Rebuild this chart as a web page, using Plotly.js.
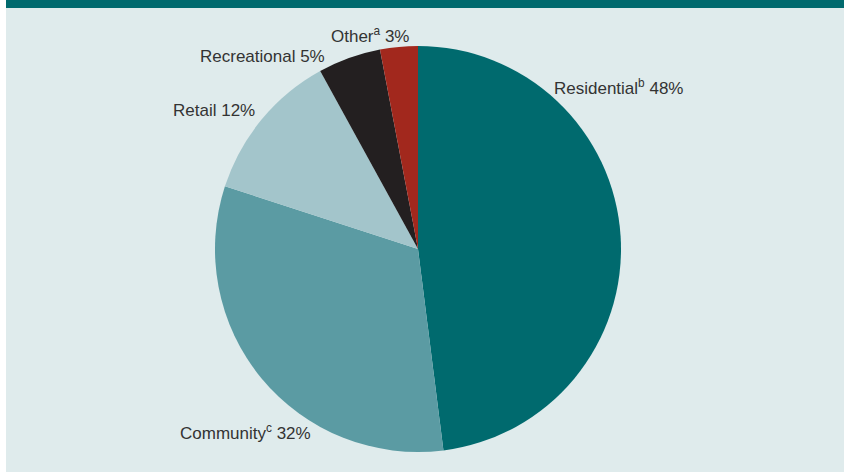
<!DOCTYPE html>
<html>
<head>
<meta charset="utf-8">
<script src="https://cdn.plot.ly/plotly-3.0.1.min.js"></script>
<style>html,body{margin:0;padding:0;background:#dfebec;}#chart{width:844px;height:472px;}</style>
</head>
<body>
<div id="chart"></div>
<script>
const categories = ['Residential', 'Community', 'Retail', 'Recreational', 'Other'];
const notes = ['b', 'c', '', '', 'a'];
const shares = [48, 32, 12, 5, 3];
const colors = ['#006a6e', '#5b9ba3', '#a3c5cb', '#231f20', '#a2281d'];

// label placement (paper coords) and anchors, in category order
const labelPos = [
  {x: 0.8300, y: 0.899, xa: 'left'},
  {x: -0.0911, y: 0.049, xa: 'left'},
  {x: 0.1034, y: 0.842, xa: 'right'},
  {x: 0.2759, y: 0.975, xa: 'right'},
  {x: 0.4828, y: 1.027, xa: 'right'}
];

const annotations = categories.map((c, i) => ({
  text: c + (notes[i] ? '<sup>' + notes[i] + '</sup>' : '') + ' ' + shares[i] + '%',
  x: labelPos[i].x, y: labelPos[i].y, xref: 'paper', yref: 'paper',
  xanchor: labelPos[i].xa, yanchor: 'middle', showarrow: false,
  font: {family: 'Liberation Sans, Arial, sans-serif', size: 17, color: '#333333'}
}));

const trace = {
  type: 'pie',
  labels: categories,
  values: shares,
  sort: false,
  direction: 'clockwise',
  rotation: 0,
  textinfo: 'none',
  hoverinfo: 'label+percent',
  marker: {colors: colors, line: {width: 0}},
  showlegend: false
};

const layout = {
  width: 844, height: 472,
  margin: {l: 215, r: 223, t: 46, b: 20},
  paper_bgcolor: '#dfebec',
  plot_bgcolor: '#dfebec',
  showlegend: false,
  annotations: annotations,
  shapes: [
    {
      type: 'rect', xref: 'paper', yref: 'paper',
      x0: -0.5148, x1: 2, y0: 1.0936, y1: 1.2,
      fillcolor: '#006a6e', line: {width: 0}, layer: 'above'
    },
    {
      type: 'rect', xref: 'paper', yref: 'paper',
      x0: -1, x1: -0.5148, y0: -1, y1: 2,
      fillcolor: '#ffffff', line: {width: 0}, layer: 'above'
    }
  ]
};

Plotly.newPlot('chart', [trace], layout, {staticPlot: true});
</script>
</body>
</html>
